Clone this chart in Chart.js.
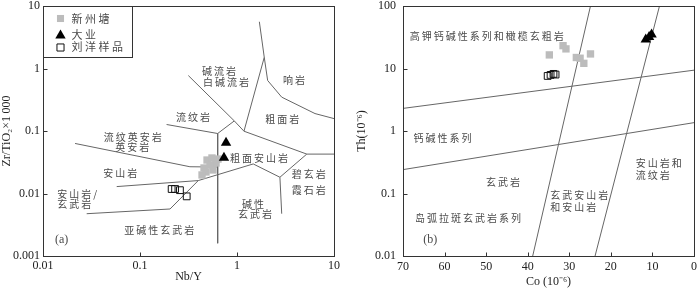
<!DOCTYPE html>
<html>
<head>
<meta charset="utf-8">
<script src="https://cdn.jsdelivr.net/npm/chart.js@4/dist/chart.umd.min.js"></script>
<style>
html, body { margin: 0; padding: 0; background: #fff; }
#wrap { position: relative; width: 700px; height: 289px; }
.pane { position: absolute; top: 0; width: 350px; height: 289px; }
</style>
</head>
<body>
<div id="wrap">
  <div class="pane" style="left:0"><canvas id="chartA"></canvas></div>
  <div class="pane" style="left:350px"><canvas id="chartB"></canvas></div>
</div>
<script>
// ---- (a) Nb/Y vs Zr/TiO2*1000 ----
var nbyTicks = [0.01, 0.1, 1, 10];
var zrTicks = [0.001, 0.01, 0.1, 1, 10];
var xztNbY = [0.491, 0.552, 0.608, 0.457, 0.527, 0.479, 0.566, 0.436, 0.637];
var xztZr = [0.0343, 0.037, 0.0308, 0.0256, 0.0286, 0.0221, 0.0238, 0.0198, 0.0356];
var dayeNbY = [0.771, 0.734];
var dayeZr = [0.0647, 0.0373];
var liuNbY = [0.212, 0.230, 0.258, 0.303];
var liuZr = [0.0118, 0.0118, 0.0113, 0.0090];
// field boundaries, [Nb/Y, Zr/TiO2]
var bordersA = [
  [[1.70, 5.6], [1.91, 1.51], [2.07, 0.643], [2.89, 0.348], [6.37, 0.190], [10, 0.158]],
  [[1.91, 1.51], [1.18, 0.0993]],
  [[0.315, 0.771], [0.938, 0.145], [1.18, 0.0993], [5.24, 0.0427], [10, 0.0427]],
  [[0.938, 0.145], [0.632, 0.0912], [0.632, 0.0016]],
  [[0.188, 0.127], [0.632, 0.0912]],
  [[0.0214, 0.0632], [0.327, 0.0268], [0.632, 0.0265]],
  [[0.399, 0.0161], [1.47, 0.0297], [2.77, 0.0182], [5.24, 0.0427]],
  [[2.77, 0.0182], [2.89, 0.00475]],
  [[0.0575, 0.0129], [0.399, 0.0161]],
  [[0.0282, 0.00475], [0.204, 0.00565], [0.399, 0.0161]]
];

// ---- (b) Co vs Th ----
var coTicks = [0, 10, 20, 30, 40, 50, 60, 70];
var thTicks = [0.01, 0.1, 1, 10, 100];
var xztCo = [34.8, 31.5, 30.8, 28.3, 27.4, 26.5, 24.9];
var xztTh = [16.5, 23.2, 20.6, 15.0, 14.6, 12.1, 17.1];
var dayeCo = [11.6, 10.8, 10.2];
var dayeTh = [29, 32, 35];
var liuCo = [35.2, 34.5, 33.8, 33.3];
var liuTh = [7.6, 7.9, 8.2, 8.0];
var bordersB = [
  [[70, 2.30], [0, 9.4]],
  [[70, 0.241], [0, 1.36]],
  [[38.8, 0.01], [24.9, 100]],
  [[23.8, 0.01], [8.3, 100]]
];

var namesA = [
  { t: '碱流岩', x: 0.436, y: 0.895 },
  { t: '白碱流岩', x: 0.446, y: 0.60 },
  { t: '响岩', x: 2.98, y: 0.645 },
  { t: '流纹岩', x: 0.235, y: 0.167 },
  { t: '粗面岩', x: 1.95, y: 0.155 },
  { t: '流纹英安岩', x: 0.0861, y: 0.0783, a: 'center' },
  { t: '英安岩', x: 0.0851, y: 0.0543, a: 'center' },
  { t: '粗面安山岩', x: 0.847, y: 0.0373 },
  { t: '安山岩', x: 0.0419, y: 0.0213 },
  { t: '安山岩/', x: 0.0140, y: 0.00989 },
  { t: '玄武岩', x: 0.0140, y: 0.00662 },
  { t: '碧玄岩', x: 3.66, y: 0.0202 },
  { t: '霞石岩', x: 3.66, y: 0.01117 },
  { t: '碱性', x: 1.50, y: 0.00668, a: 'center' },
  { t: '玄武岩', x: 1.57, y: 0.00459, a: 'center' },
  { t: '亚碱性玄武岩', x: 0.0689, y: 0.00259 },
  { t: '(a)', x: 0.0133, y: 0.00179, serif: true }
];
var namesB = [
  { t: '高钾钙碱性系列和橄榄玄粗岩', x: 68.4, y: 33 },
  { t: '钙碱性系列', x: 67.5, y: 0.755 },
  { t: '玄武岩', x: 45.7, y: 0.151, a: 'center' },
  { t: '岛弧拉斑玄武岩系列', x: 67.1, y: 0.0397 },
  { t: '玄武安山岩', x: 34.6, y: 0.0953 },
  { t: '和安山岩', x: 34.6, y: 0.0606 },
  { t: '安山岩和', x: 14.0, y: 0.303 },
  { t: '流纹岩', x: 14.0, y: 0.198 },
  { t: '(b)', x: 65.1, y: 0.0184, serif: true }
];

var GRAY = '#bcbcbc', INK = '#222', LINE = '#666';

function pts(xs, ys) {
  return xs.map(function (v, i) { return { x: v, y: ys[i] }; });
}

function buildSets(gx, gy, tx, ty, ox, oy, borders) {
  var sets = [
    { data: pts(gx, gy), pointStyle: 'rect', pointRadius: 5.2, backgroundColor: GRAY, borderWidth: 0, order: 1 },
    { data: pts(tx, ty), pointStyle: 'triangle', pointRadius: 6, backgroundColor: '#000', borderColor: '#000', borderWidth: 0, order: 0 },
    { data: pts(ox, oy), pointStyle: 'rect', pointRadius: 4.8, backgroundColor: 'rgba(0,0,0,0)', borderColor: '#111', borderWidth: 1, order: 0 }
  ];
  borders.forEach(function (b) {
    sets.push({
      data: b.map(function (p) { return { x: p[0], y: p[1] }; }),
      showLine: true, pointRadius: 0, borderColor: LINE, borderWidth: 1, fill: false, order: 5
    });
  });
  return sets;
}

function makeDecor(names, withLegend) {
  return {
    id: 'decor',
    afterDatasetsDraw: function (chart) {
      var ctx = chart.ctx, a = chart.chartArea;
      var xs = chart.scales.x, ys = chart.scales.y;
      var L = Math.round(a.left) + 0.5, T = Math.round(a.top) + 0.5;
      var R = Math.round(a.right) + 0.5, B = Math.round(a.bottom) + 0.5;
      ctx.save();
      ctx.strokeStyle = '#333';
      ctx.lineWidth = 1;
      ctx.strokeRect(L, T, R - L, B - T);
      // ticks point inwards
      ctx.beginPath();
      xs.ticks.forEach(function (t) {
        var px = Math.round(xs.getPixelForValue(t.value)) + 0.5;
        ctx.moveTo(px, B); ctx.lineTo(px, B - 4);
      });
      ys.ticks.forEach(function (t) {
        var py = Math.round(ys.getPixelForValue(t.value)) + 0.5;
        ctx.moveTo(L, py); ctx.lineTo(L + 4, py);
      });
      ctx.stroke();

      ctx.fillStyle = '#4a4a4a';
      ctx.textBaseline = 'middle';
      names.forEach(function (n) {
        ctx.font = n.serif ? '12px "Liberation Serif"' : '10px "Noto Sans CJK SC"';
        ctx.letterSpacing = n.serif ? '0px' : '2px';
        ctx.textAlign = n.a || 'left';
        ctx.fillText(n.t, xs.getPixelForValue(n.x), ys.getPixelForValue(n.y));
      });

      if (withLegend) {
        ctx.strokeStyle = '#333';
        ctx.strokeRect(L, T, 89, 51);
        var mx = L + 17;
        var draw = Chart.helpers.drawPoint;
        ctx.fillStyle = GRAY;
        draw(ctx, { pointStyle: 'rect', radius: 5, borderWidth: 0 }, mx, T + 12);
        ctx.fillStyle = '#000';
        draw(ctx, { pointStyle: 'triangle', radius: 6, borderWidth: 0 }, mx, T + 29);
        ctx.strokeStyle = '#111';
        ctx.fillStyle = 'rgba(0,0,0,0)';
        draw(ctx, { pointStyle: 'rect', radius: 5, borderWidth: 1 }, mx, T + 41);
        ctx.fillStyle = '#4a4a4a';
        ctx.font = '11px "Noto Sans CJK SC"';
        ctx.letterSpacing = '2.5px';
        ctx.textAlign = 'left';
        ctx.fillText('新州塘', L + 28, T + 12);
        ctx.fillText('大业', L + 28, T + 28);
        ctx.fillText('刘洋样品', L + 28, T + 40);
      }
      ctx.restore();
    }
  };
}

function tickFont() { return { family: 'Liberation Serif', size: 12 }; }

function axis(type, min, max, list, extra) {
  var o = {
    type: type, min: min, max: max,
    afterBuildTicks: function (s) { s.ticks = list.map(function (v) { return { value: v }; }); },
    ticks: { callback: function (v) { return String(v); }, font: tickFont(), color: INK, autoSkip: false, maxRotation: 0 },
    grid: { display: false, drawTicks: false },
    border: { display: false }
  };
  for (var k in extra) o[k] = extra[k];
  return o;
}

var common = {
  responsive: true, maintainAspectRatio: false, animation: false, events: [],
  plugins: { legend: { display: false }, tooltip: { enabled: false } }
};

// chart (a)
new Chart(document.getElementById('chartA'), {
  type: 'scatter',
  data: { datasets: buildSets(xztNbY, xztZr, dayeNbY, dayeZr, liuNbY, liuZr, bordersA) },
  options: Object.assign({}, common, {
    layout: { padding: { left: 0, top: 4, right: 16, bottom: 0 } },
    scales: {
      x: axis('logarithmic', 0.01, 10, nbyTicks, {
        title: { display: true, text: 'Nb/Y', font: tickFont(), color: INK, padding: { top: 0, bottom: 5 } },
        afterFit: function (s) { s.height = 33; s.paddingLeft = 0; s.paddingRight = 0; }
      }),
      y: axis('logarithmic', 0.001, 10, zrTicks, {
        title: { display: true, text: 'Zr/TiO\u2082\u00d71\u2009000', font: tickFont(), color: INK, padding: { top: 0, bottom: 0 } },
        afterFit: function (s) { s.width = 43; s.paddingTop = 0; s.paddingBottom = 0; }
      })
    }
  }),
  plugins: [makeDecor(namesA, true)]
});
</script>
<script>
// chart (b)
(function () {
  var ya = axis('logarithmic', 0.01, 100, thTicks, {
    title: { display: true, text: 'Th(10\u207b\u2076)', font: tickFont(), color: INK, padding: { top: 5, bottom: 0 } },
    afterFit: function (s) { s.width = 53; s.paddingTop = 0; s.paddingBottom = 0; }
  });
  ya.ticks.padding = 7;
  var xa = axis('linear', 0, 70, coTicks, {
    reverse: true,
    title: { display: true, text: 'Co (10\u207b\u2076)', font: tickFont(), color: INK, padding: { top: 0, bottom: 0 } },
    afterFit: function (s) { s.height = 33; s.paddingLeft = 0; s.paddingRight = 0; }
  });
  xa.ticks.padding = 4;
  new Chart(document.getElementById('chartB'), {
    type: 'scatter',
    data: { datasets: buildSets(xztCo, xztTh, dayeCo, dayeTh, liuCo, liuTh, bordersB) },
    options: Object.assign({}, common, {
      layout: { padding: { left: 0, top: 4, right: 3, bottom: 0 } },
      scales: { x: xa, y: ya }
    }),
    plugins: [makeDecor(namesB, false)]
  });
})();
</script>
</body>
</html>
